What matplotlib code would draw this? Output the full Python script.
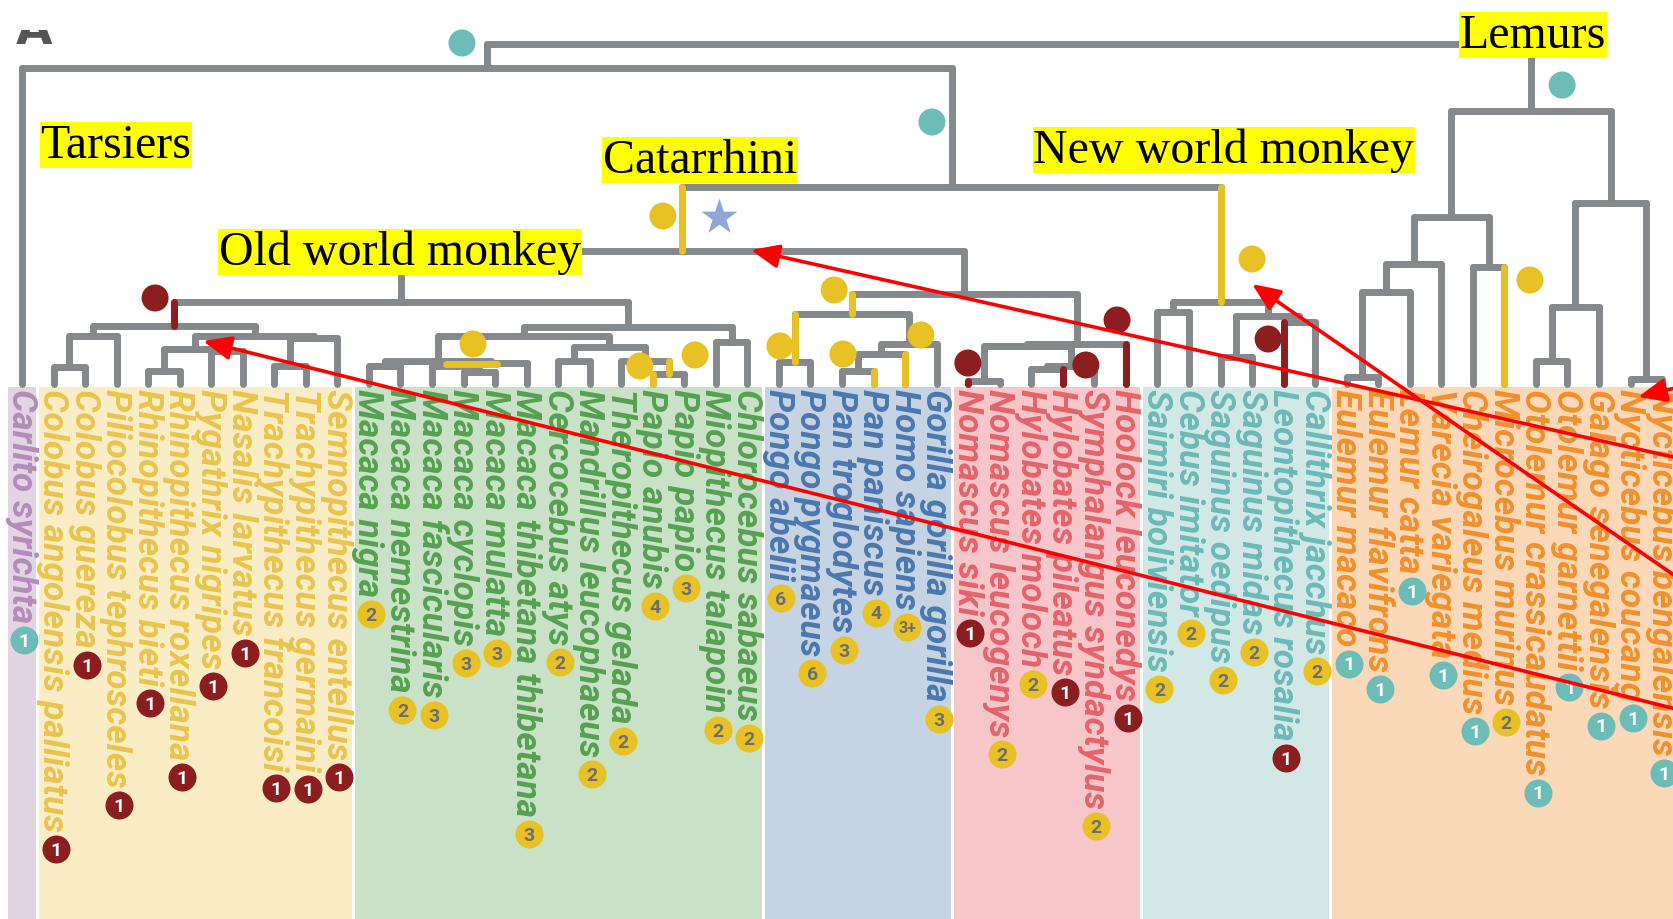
import matplotlib
matplotlib.use("Agg")
import matplotlib.pyplot as plt
from matplotlib.collections import LineCollection
from matplotlib.patches import Rectangle

# ---------------------------------------------------------------- data
species = [
    "Carlito syrichta",
    "Colobus angolensis palliatus", "Colobus guereza", "Piliocolobus tephrosceles",
    "Rhinopithecus bieti", "Rhinopithecus roxellana", "Pygathrix nigripes",
    "Nasalis larvatus", "Trachypithecus francoisi", "Trachypithecus germaini",
    "Semnopithecus entellus",
    "Macaca nigra", "Macaca nemestrina", "Macaca fascicularis", "Macaca cyclopis",
    "Macaca mulatta", "Macaca thibetana thibetana", "Cercocebus atys",
    "Mandrillus leucophaeus", "Theropithecus gelada", "Papio anubis", "Papio papio",
    "Miopithecus talapoin", "Chlorocebus sabaeus",
    "Pongo abelii", "Pongo pygmaeus", "Pan troglodytes", "Pan paniscus",
    "Homo sapiens", "Gorilla gorilla gorilla",
    "Nomascus siki", "Nomascus leucogenys", "Hylobates moloch", "Hylobates pileatus",
    "Symphalangus syndactylus", "Hoolock leuconedys",
    "Saimiri boliviensis", "Cebus imitator", "Saguinus oedipus", "Saguinus midas",
    "Leontopithecus rosalia", "Callithrix jacchus",
    "Eulemur macaco", "Eulemur flavifrons", "Lemur catta", "Varecia variegata",
    "Cheirogaleus medius", "Microcebus murinus", "Otolemur crassicaudatus",
    "Otolemur garnettii", "Galago senegalensis", "Nycticebus coucang",
    "Nycticebus bengalensis",
]

badge_values = (["1"] * 11
                + ["2", "2", "3", "3", "3", "3", "2", "2", "2", "4", "3", "2", "2"]
                + ["6", "6", "3", "4", "3+", "3"]
                + ["1", "2", "2", "1", "2", "1"]
                + ["2", "2", "2", "2", "1", "2"]
                + ["1", "1", "1", "1", "1", "2", "1", "1", "1", "1", "1"])
badge_kinds = (["teal"] + ["red"] * 10
               + ["gold"] * 13
               + ["gold"] * 6
               + ["red", "gold", "gold", "red", "gold", "red"]
               + ["gold", "gold", "gold", "gold", "red", "gold"]
               + ["teal"] * 5 + ["gold"] + ["teal"] * 5)

# colour bands: (first leaf, last leaf)
band_first = [0, 1, 11, 24, 30, 36, 42]
band_last = [0, 10, 23, 29, 35, 41, 52]
band_fill = ["#e3d4e4", "#faedc6", "#c9e1c6", "#c6d3e3", "#f6c6c8", "#d2e8e7", "#fbd8b8"]
band_text = ["#b48cb9", "#e9c54e", "#55a151", "#4a78af", "#e5636b", "#6cb9b5", "#f0912d"]

# internal nodes: name -> (children, node depth)
tree = {
    "Primates": (["Haplorhini", "Strepsirrhini"], 45),
    "Haplorhini": (["Carlito syrichta", "Anthropoidea"], 69),
    "Anthropoidea": (["Catarrhini", "Platyrrhini"], 188),
    "Catarrhini": (["Cercopithecidae", "Hominoidea"], 252),
    "Cercopithecidae": (["Colobinae", "Cercopithecinae"], 303),
    "Colobinae": (["Colobini", "Presbytini"], 327),
    "Colobini": (["Colobus", "Piliocolobus tephrosceles"], 337),
    "Colobus": (["Colobus angolensis palliatus", "Colobus guereza"], 368),
    "Presbytini": (["OddNosed", "TrachySemno"], 337),
    "OddNosed": (["Rhinopithecus", "PygNas"], 350),
    "Rhinopithecus": (["Rhinopithecus bieti", "Rhinopithecus roxellana"], 372),
    "PygNas": (["Pygathrix nigripes", "Nasalis larvatus"], 352),
    "TrachySemno": (["Trachypithecus", "Semnopithecus entellus"], 339),
    "Trachypithecus": (["Trachypithecus francoisi", "Trachypithecus germaini"], 367),
    "Cercopithecinae": (["Papionini", "Cercopithecini"], 328),
    "Papionini": (["Macaca", "Papionina"], 337),
    "Macaca": (["NigraNemestrina", "MacacaB"], 362),
    "NigraNemestrina": (["Macaca nigra", "Macaca nemestrina"], 367),
    "MacacaB": (["FascCycMul", "Macaca thibetana thibetana"], 364),
    "FascCycMul": (["Macaca fascicularis", "CycMul"], 367),
    "CycMul": (["Macaca cyclopis", "Macaca mulatta"], 373),
    "Papionina": (["CercoMand", "TheroPapio"], 348),
    "CercoMand": (["Cercocebus atys", "Mandrillus leucophaeus"], 362),
    "TheroPapio": (["Theropithecus gelada", "Papio"], 362),
    "Papio": (["Papio anubis", "Papio papio"], 375),
    "Cercopithecini": (["Miopithecus talapoin", "Chlorocebus sabaeus"], 343),
    "Hominoidea": (["Hominidae", "Hylobatidae"], 295),
    "Hominidae": (["Pongo", "Homininae"], 315),
    "Pongo": (["Pongo abelii", "Pongo pygmaeus"], 363),
    "Homininae": (["Hominini", "Gorilla gorilla gorilla"], 345),
    "Hominini": (["Pan", "Homo sapiens"], 355),
    "Pan": (["Pan troglodytes", "Pan paniscus"], 372),
    "Hylobatidae": (["NomHylo", "Hoolock leuconedys"], 345),
    "NomHylo": (["Nomascus", "HyloSymph"], 347),
    "Nomascus": (["Nomascus siki", "Nomascus leucogenys"], 382),
    "HyloSymph": (["Hylobates", "Symphalangus syndactylus"], 367),
    "Hylobates": (["Hylobates moloch", "Hylobates pileatus"], 370),
    "Platyrrhini": (["Cebidae", "Callitrichidae"], 303),
    "Cebidae": (["Saimiri boliviensis", "Cebus imitator"], 313),
    "Callitrichidae": (["Saguinus", "LeoCall"], 317),
    "Saguinus": (["Saguinus oedipus", "Saguinus midas"], 358),
    "LeoCall": (["Leontopithecus rosalia", "Callithrix jacchus"], 323),
    "Strepsirrhini": (["Lemuriformes", "Lorisiformes"], 112),
    "Lemuriformes": (["Lemuridae", "Cheirogaleidae"], 218),
    "Lemuridae": (["EulemurLemur", "Varecia variegata"], 265),
    "EulemurLemur": (["Eulemur", "Lemur catta"], 293),
    "Eulemur": (["Eulemur macaco", "Eulemur flavifrons"], 378),
    "Cheirogaleidae": (["Cheirogaleus medius", "Microcebus murinus"], 268),
    "Lorisiformes": (["Galagidae", "Lorisidae"], 204),
    "Galagidae": (["Otolemur", "Galago senegalensis"], 308),
    "Otolemur": (["Otolemur crassicaudatus", "Otolemur garnettii"], 362),
    "Lorisidae": (["Nycticebus coucang", "Nycticebus bengalensis"], 380),
}
leaf_depth = 385

# branches highlighted with an event colour
stem_events = {
    "Colobinae": "red", "Catarrhini": "gold", "Hominidae": "gold", "Pongo": "gold",
    "Pan paniscus": "gold", "Homo sapiens": "gold", "Papio": "gold",
    "Papio anubis": "gold", "Nomascus siki": "red", "Hylobates pileatus": "red",
    "Hoolock leuconedys": "red", "Platyrrhini": "gold",
    "Leontopithecus rosalia": "red", "Microcebus murinus": "gold",
}
bar_events = {"FascCycMul": "gold"}

# event dots on the tree (leaf-position units, depth)
event_x = [13.95, 28.85, 48.83, 20.32, 4.22, 14.30, 19.59, 21.34, 24.03, 25.75,
           26.03, 28.50, 29.99, 33.73, 34.72, 39.00, 39.51, 47.81]
event_y = [44, 123, 86, 217, 299, 345, 367, 356, 347, 291,
           355, 336, 364, 366, 321, 260, 340, 281]
event_kind = ["teal", "teal", "teal", "gold", "red", "gold", "gold", "gold", "gold", "gold",
              "gold", "gold", "red", "red", "red", "gold", "red", "gold"]
star_x, star_y = [22.10], [218]

clade_names = ["Tarsiers", "Old world monkey", "Catarrhini", "New world monkey", "Lemurs"]
clade_x = [2.98, 11.98, 21.50, 38.11, 47.91]
clade_y = [146, 253, 161, 151, 36]

arrow_tip_x = [5.74, 23.11, 39.00, 51.24]
arrow_tip_y = [342, 251, 285, 398]
arrow_tail_x = [53.2, 53.2, 53.2, 53.2]
arrow_tail_y = [716, 464, 594, 383]

# ---------------------------------------------------------------- styles
colors = {"red": "#8d1e1f", "gold": "#e8c125", "teal": "#6cbdb8"}
badge_num_color = {"red": "white", "gold": "#6e6e6e", "teal": "white"}
TREE = "#86898c"
LW = 5.0

W, H = 1674, 920
X0, DX = 22.0, 31.54          # pixel position of the first leaf, leaf spacing
fig = plt.figure(figsize=(W / 100, H / 100), dpi=100)
ax = fig.add_axes([0, 0, 1, 1])
ax.set_xlim(-X0 / DX, (W - X0) / DX)
ax.set_ylim(H, 0)
ax.axis("off")

# ---------------------------------------------------------------- bands
gap = 0.05
band_top = 388
for a, b, fc in zip(band_first, band_last, band_fill):
    x0 = a - 0.5 + gap
    x1 = b + 0.5 - gap if b < len(species) - 1 else 60
    ax.add_patch(Rectangle((x0, band_top), x1 - x0, H - band_top + 5,
                           facecolor=fc, edgecolor="none", zorder=0))

# ---------------------------------------------------------------- tree
leaf_index = {s: i for i, s in enumerate(species)}
pos, depth = {}, {}


def place(name):
    if name in leaf_index:
        pos[name], depth[name] = float(leaf_index[name]), leaf_depth
        return pos[name]
    kids, h = tree[name]
    xs = [place(k) for k in kids]
    pos[name], depth[name] = (xs[0] + xs[-1]) / 2.0, h
    return pos[name]


place("Primates")
parent = {k: p for p, (kids, _) in tree.items() for k in kids}

segs = []
for name, (kids, h) in tree.items():
    xs = [pos[k] for k in kids]
    segs.append([(min(xs), h), (max(xs), h)])
    for k in kids:
        segs.append([(pos[k], h), (pos[k], depth[k])])
ax.add_collection(LineCollection(segs, colors=TREE, linewidths=LW,
                                 capstyle="round", joinstyle="round", zorder=2))

for name, kind in stem_events.items():
    p = parent[name]
    ax.plot([pos[name], pos[name]], [depth[p], depth[name]], color=colors[kind],
            lw=LW, solid_capstyle="round", zorder=3)
for name, kind in bar_events.items():
    kids, h = tree[name]
    ax.plot([pos[kids[0]] + 0.45, pos[kids[-1]] + 0.55], [h - 2, h - 2],
            color=colors[kind], lw=LW, solid_capstyle="round", zorder=3)

ax.scatter(event_x, event_y, s=27 ** 2 * 0.5184, c=[colors[k] for k in event_kind],
           linewidths=0, zorder=4)
ax.scatter(star_x, star_y, s=30 ** 2 * 0.5184 * 1.6, marker="*", c="#8fa6d8",
           linewidths=0, zorder=4)

# ---------------------------------------------------------------- leaf labels
band_of = {}
for bi, (a, b) in enumerate(zip(band_first, band_last)):
    for i in range(a, b + 1):
        band_of[i] = bi

labels = []
for i, name in enumerate(species):
    t = ax.text(i - 0.03, band_top + 1, name, rotation=-90, ha="center", va="top",
                fontsize=25.4, family="Roboto", fontweight="bold", fontstyle="italic",
                color=band_text[band_of[i]], zorder=5)
    labels.append(t)

fig.canvas.draw()
renderer = fig.canvas.get_renderer()
inv = ax.transData.inverted()
for i, t in enumerate(labels):
    bb = t.get_window_extent(renderer)
    y_end = inv.transform((bb.x0, bb.y0))[1]
    bx, by = i + 2 / DX, y_end + 18
    kind = badge_kinds[i]
    ax.scatter([bx], [by], s=28 ** 2 * 0.5184, c=colors[kind], linewidths=0, zorder=6)
    ax.text(bx, by + 1, badge_values[i], ha="center", va="center",
            fontsize=14 if len(badge_values[i]) == 1 else 11.5,
            family="Roboto", fontweight="bold", color=badge_num_color[kind], zorder=7)

# ---------------------------------------------------------------- clade labels
for name, x, y in zip(clade_names, clade_x, clade_y):
    ax.text(x, y, name, ha="center", va="center", fontsize=34.5,
            family="Liberation Serif", color="black", zorder=8,
            bbox=dict(boxstyle="square,pad=0.02", facecolor="#ffff00", edgecolor="none"))

# ---------------------------------------------------------------- arrows
for tx, ty, sx, sy in zip(arrow_tip_x, arrow_tip_y, arrow_tail_x, arrow_tail_y):
    ax.annotate("", xy=(tx, ty), xytext=(sx, sy), annotation_clip=False,
                arrowprops=dict(arrowstyle="-|>,head_length=0.85,head_width=0.36",
                                color="#ff0000", lw=2.6, shrinkA=0, shrinkB=0,
                                mutation_scale=20),
                zorder=9)

# panel letter, partly hidden under the top margin
letter = ax.text(-6 / DX, 44, "A", ha="left", va="baseline", fontsize=34,
                 family="DejaVu Sans", fontweight="bold", color="#555555", zorder=1,
                 clip_on=True)
letter.set_clip_path(Rectangle((-1, 31), 3, 40, transform=ax.transData))

fig.savefig("out.png", dpi=100)
